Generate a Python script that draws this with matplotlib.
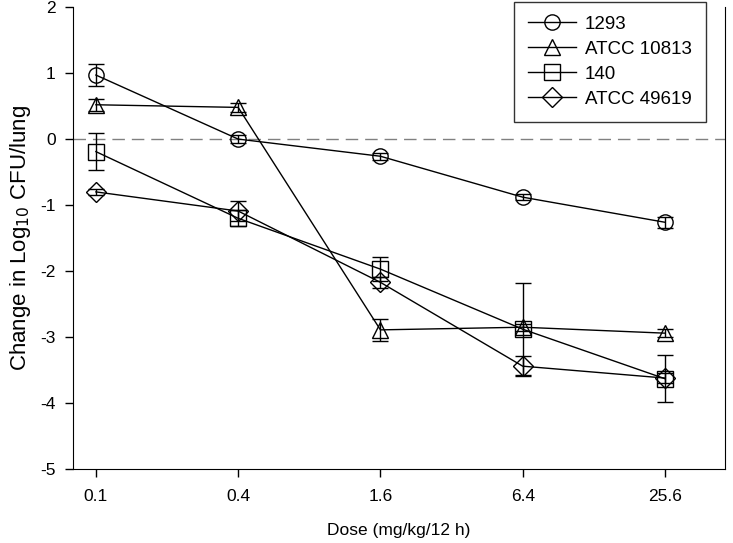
import matplotlib
matplotlib.use("Agg")
import matplotlib.pyplot as plt

plt.rcParams['font.family'] = ['Liberation Sans', 'DejaVu Sans']
plt.rcParams['axes.unicode_minus'] = False

dose = [0.1, 0.4, 1.6, 6.4, 25.6]
dose_labels = ['0.1', '0.4', '1.6', '6.4', '25.6']

strain_names = ['1293', 'ATCC 10813', '140', 'ATCC 49619']
strain_markers = ['o', '^', 's', 'D']

y_1293 = [0.97, 0.0, -0.26, -0.88, -1.26]
err_1293 = [0.17, 0.06, 0.05, 0.05, 0.08]

y_10813 = [0.52, 0.48, -2.89, -2.85, -2.94]
err_10813 = [0.09, 0.07, 0.17, 0.05, 0.06]

y_140 = [-0.19, -1.20, -1.97, -2.88, -3.63]
err_140 = [0.28, 0.12, 0.18, 0.70, 0.36]

y_49619 = [-0.80, -1.09, -2.17, -3.44, -3.62]
err_49619 = [0.04, 0.15, 0.08, 0.15, 0.08]

series = [y_1293, y_10813, y_140, y_49619]
errors = [err_1293, err_10813, err_140, err_49619]

fig = plt.figure(figsize=(7.33, 5.43), dpi=100)
ax = fig.add_axes([0.0996, 0.136, 0.889, 0.851])

# dashed zero line
ax.axhline(0, color='#808080', lw=1, ls=(0, (9, 5)), zorder=1)

for name, mk, yv, ev in zip(strain_names, strain_markers, series, errors):
    ms = 11 if mk != 'D' else 10
    ax.errorbar(dose, yv, yerr=ev, fmt='none', ecolor='black', capsize=6,
                capthick=1, elinewidth=1, zorder=2)
    ax.plot(dose, yv, color='black', lw=1, marker=mk, ms=ms,
            mfc='none', mec='black', mew=1, label=name, zorder=3)

ax.set_xscale('log', base=4)
ax.set_xlim(0.08, 45.8)
ax.set_xticks(dose)
ax.set_xticklabels(dose_labels)
ax.minorticks_off()
ax.set_ylim(-5, 2)
ax.set_yticks(range(-5, 3))

ax.spines['top'].set_visible(False)
ax.tick_params(axis='both', direction='out', length=6, width=1, labelsize=12.5)
ax.tick_params(axis='x', pad=8)
ax.tick_params(axis='y', pad=6.5)

ax.set_xlabel('Dose (mg/kg/12 h)', fontsize=12.5, labelpad=14)
ax.set_ylabel('Change in Log$_{10}$ CFU/lung', fontsize=16, labelpad=5)

leg = ax.legend(loc='upper right', bbox_to_anchor=(0.971, 1.012), fontsize=13.5,
                frameon=True, fancybox=False, edgecolor='black',
                handlelength=2.6, borderpad=0.75, labelspacing=0.42,
                handletextpad=0.45, borderaxespad=0)
leg.get_frame().set_linewidth(1)

fig.savefig('out.png', dpi=100)
